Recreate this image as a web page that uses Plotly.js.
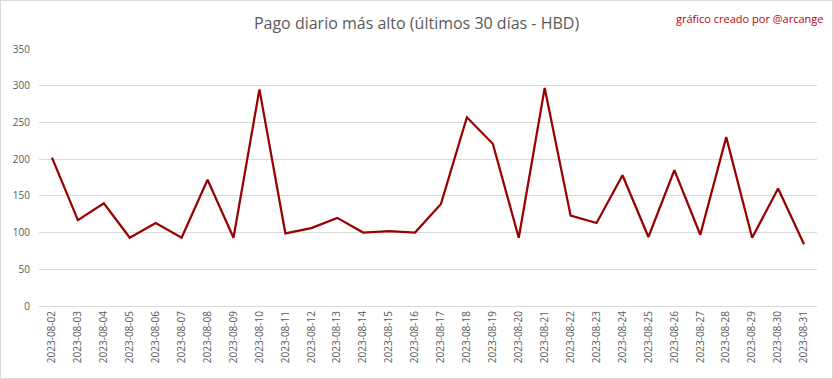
<!DOCTYPE html>
<html><head><meta charset="utf-8">
<script src="https://cdn.plot.ly/plotly-3.0.1.min.js"></script>
<style>
html,body{margin:0;padding:0;background:#fff;}
#chart{width:831px;height:377px;border:1px solid #d9d9d9;}
</style></head>
<body><div id="chart"></div>
<script>
const dates = ["2023-08-02","2023-08-03","2023-08-04","2023-08-05","2023-08-06","2023-08-07","2023-08-08","2023-08-09","2023-08-10","2023-08-11","2023-08-12","2023-08-13","2023-08-14","2023-08-15","2023-08-16","2023-08-17","2023-08-18","2023-08-19","2023-08-20","2023-08-21","2023-08-22","2023-08-23","2023-08-24","2023-08-25","2023-08-26","2023-08-27","2023-08-28","2023-08-29","2023-08-30","2023-08-31"];
const pago = [202,117,140,93,113,93,172,93,295,99,106,120,100,102,100,139,257,221,93,297,123,113,178,94,185,97,230,93,160,84];
const yTicks = [0,50,100,150,200,250,300,350];
const titleText = "Pago diario más alto (últimos 30 días - HBD)";
const creditText = "gráfico creado por @arcange";

const font = "Open Sans, Noto Sans, sans-serif";
Plotly.newPlot("chart", [{
  x: dates, y: pago, type: "scatter", mode: "lines",
  line: {color: "#990000", width: 2.25},
  hoverinfo: "x+y"
}], {
  width: 831, height: 377,
  margin: {l: 38, r: 15, t: 48, b: 72},
  paper_bgcolor: "#fff", plot_bgcolor: "#fff",
  showlegend: false,
  title: {text: titleText, x: 0.5, xanchor: "center", y: 0.94, yanchor: "middle",
          font: {family: font, size: 16, color: "#595959"}},
  xaxis: {type: "category", range: [-0.5, 29.5], tickangle: -90,
          tickfont: {family: font, size: 10, color: "#595959"},
          showgrid: false, showline: true, linecolor: "#d9d9d9", linewidth: 1,
          ticks: "", ticklen: 0, automargin: false},
  yaxis: {range: [0, 350], tickvals: yTicks, ticktext: yTicks.map(String),
          tickfont: {family: font, size: 10, color: "#595959"},
          gridcolor: "#d9d9d9", gridwidth: 1, zeroline: false, showline: false,
          ticks: "", automargin: false, ticklabelstandoff: 8},
  annotations: [{text: creditText, xref: "paper", yref: "paper", x: 1.012, y: 1.12,
                 xanchor: "right", yanchor: "middle", showarrow: false,
                 font: {family: font, size: 11, color: "#c00000"}}]
}, {displayModeBar: false, staticPlot: true});
</script></body></html>
